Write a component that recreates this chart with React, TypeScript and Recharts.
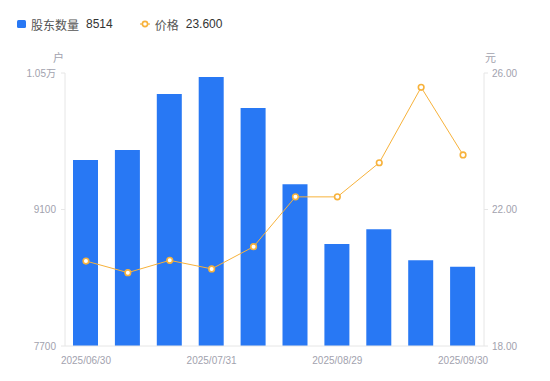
import React from 'react';
import { ComposedChart, Bar, Line, XAxis, YAxis } from 'recharts';

const dates = ['2025/06/30', '2025/07/10', '2025/07/20', '2025/07/31', '2025/08/08', '2025/08/20', '2025/08/29', '2025/09/10', '2025/09/19', '2025/09/30'];
const holders = [9608, 9710, 10285, 10459, 10141, 9358, 8746, 8897, 8579, 8514];
const prices = [20.49, 20.15, 20.51, 20.26, 20.91, 22.37, 22.37, 23.37, 25.58, 23.6];
const leftTicks = [7700, 9100, 10500];
const rightTicks = [18, 22, 26];

const data = dates.map((d, i) => ({ date: d, holders: holders[i], price: prices[i] }));

const FONT = '"Liberation Sans", Arial, "Noto Sans CJK SC", sans-serif';
const TICK = '#a2a2ae';
const BLUE = '#2878F4';
const ORANGE = '#F7B23B';

const fmtLeft = (v: number) => (v >= 10000 ? `${(v / 10000).toFixed(2)}万` : `${v}`);
const fmtRight = (v: number) => v.toFixed(2);

export default function App() {
  return (
    <div style={{ position: 'absolute', left: 0, top: 0, width: 550, height: 381, fontFamily: FONT, background: '#fff' }}>
      <div style={{ position: 'absolute', left: 17, top: 16, display: 'flex', alignItems: 'center', fontSize: 12, color: '#333', height: 16 }}>
        <span style={{ display: 'inline-block', width: 9, height: 8, background: BLUE, borderRadius: 1.5, marginRight: 5 }} />
        <span style={{ color: '#555' }}>股东数量</span>
        <span style={{ marginLeft: 7 }}>8514</span>
        <svg width={10} height={10} style={{ marginLeft: 27, marginRight: 5 }}>
          <line x1={0} y1={5} x2={10} y2={5} stroke={ORANGE} strokeWidth={1.2} />
          <circle cx={5} cy={5} r={2.6} fill="#fff" stroke={ORANGE} strokeWidth={1.6} />
        </svg>
        <span style={{ color: '#555' }}>价格</span>
        <span style={{ marginLeft: 7 }}>23.600</span>
      </div>
      <div style={{ position: 'absolute', left: 53, top: 49, fontSize: 11, color: TICK }}>户</div>
      <div style={{ position: 'absolute', left: 485, top: 49, fontSize: 11, color: TICK }}>元</div>
      <ComposedChart width={550} height={381} data={data} margin={{ top: 73, right: 0, bottom: 0, left: 0 }} barCategoryGap={0}>
        <XAxis
          dataKey="date"
          interval={2}
          tickLine={false}
          axisLine={{ stroke: '#e6e6e6' }}
          tick={{ fill: TICK, fontSize: 10, fontFamily: FONT }}
          height={35}
          tickMargin={5}
        />
        <YAxis
          yAxisId="left"
          orientation="left"
          width={65}
          domain={[7700, 10500]}
          ticks={leftTicks}
          tickFormatter={fmtLeft}
          axisLine={{ stroke: '#e6e6e6' }}
          tickLine={{ stroke: '#e6e6e6' }}
          tickSize={4}
          tickMargin={5}
          tick={{ fill: TICK, fontSize: 10, fontFamily: FONT }}
          interval={0}
        />
        <YAxis
          yAxisId="right"
          orientation="right"
          width={66}
          domain={[18, 26]}
          ticks={rightTicks}
          tickFormatter={fmtRight}
          axisLine={{ stroke: '#e6e6e6' }}
          tickLine={{ stroke: '#e6e6e6' }}
          tickSize={4}
          tickMargin={4}
          tick={{ fill: TICK, fontSize: 10, fontFamily: FONT }}
          interval={0}
        />
        <Bar yAxisId="left" dataKey="holders" fill={BLUE} barSize={25} isAnimationActive={false} />
        <Line
          yAxisId="right"
          dataKey="price"
          type="linear"
          stroke={ORANGE}
          strokeWidth={1}
          dot={{ r: 2.8, fill: '#fff', stroke: ORANGE, strokeWidth: 1.6 }}
          activeDot={false}
          isAnimationActive={false}
        />
      </ComposedChart>
    </div>
  );
}
